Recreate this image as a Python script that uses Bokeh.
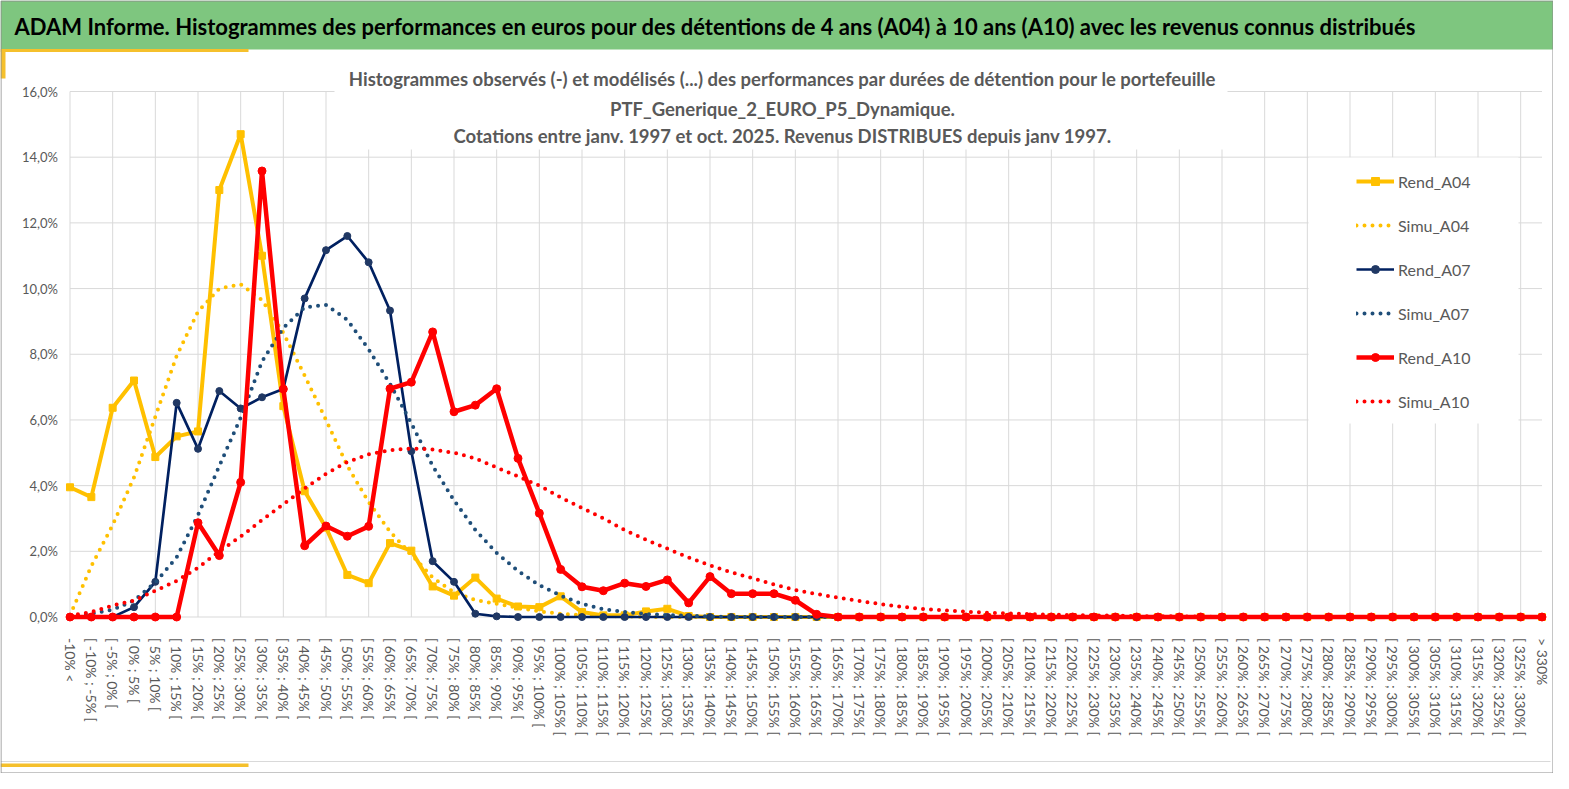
from bokeh.plotting import figure
from bokeh.models import FixedTicker, Range1d, Label, BoxAnnotation, Legend, LegendItem
from bokeh.embed import file_html
from bokeh.resources import INLINE

# ---------------- data ----------------
categories = ["-10% <"] + ["[ %d%% ; %d%% [" % (a, a + 5) for a in range(-10, 330, 5)] + ["> 330%"]
positions = list(range(len(categories)))

y_ticks = [0, 2, 4, 6, 8, 10, 12, 14, 16]
y_tick_labels = ["0,0%", "2,0%", "4,0%", "6,0%", "8,0%", "10,0%", "12,0%", "14,0%", "16,0%"]

rend_a04 = [3.95, 3.65, 6.37, 7.2, 4.87, 5.5, 5.65, 13.0, 14.7, 11.0,
            6.42, 3.83, 2.72, 1.28, 1.03, 2.25, 2.02, 0.93, 0.65, 1.2,
            0.56, 0.32, 0.3, 0.63, 0.15, 0.05, 0.05, 0.17, 0.25, 0.03] + [0.0] * 40

simu_a04 = [0.05, 1.55, 2.8, 4.25, 6.1, 7.95, 9.3, 10.0, 10.13, 9.65,
            8.65, 7.35, 6.0, 4.6, 3.5, 2.6, 1.9, 1.2, 0.75, 0.52,
            0.4, 0.28, 0.17, 0.1, 0.06, 0.03, 0.02] + [0.0] * 43

rend_a07 = [0.0, 0.0, 0.0, 0.3, 1.07, 6.52, 5.12, 6.88, 6.35, 6.69,
            6.94, 9.7, 11.17, 11.6, 10.8, 9.33, 5.05, 1.7, 1.07, 0.1,
            0.02] + [0.0] * 49

simu_a07 = [0.03, 0.1, 0.22, 0.5, 1.05, 1.82, 3.1, 4.6, 6.07, 7.78,
            8.8, 9.43, 9.5, 9.05, 8.15, 7.1, 5.9, 4.6, 3.55, 2.65,
            1.95, 1.4, 0.97, 0.65, 0.4, 0.24, 0.15, 0.09, 0.06, 0.04,
            0.02] + [0.0] * 39

rend_a10 = [0.0, 0.0, 0.0, 0.0, 0.0, 0.0, 2.87, 1.87, 4.1, 13.58,
            6.94, 2.17, 2.77, 2.46, 2.76, 6.95, 7.15, 8.68, 6.25, 6.45,
            6.95, 4.83, 3.16, 1.45, 0.92, 0.8, 1.03, 0.93, 1.13, 0.43,
            1.23, 0.71, 0.71, 0.71, 0.51, 0.08] + [0.0] * 34

simu_a10 = [0.05, 0.15, 0.35, 0.5, 0.8, 1.1, 1.5, 2.0, 2.45, 2.95,
            3.43, 3.92, 4.36, 4.72, 4.95, 5.08, 5.13, 5.1, 5.0, 4.83,
            4.55, 4.28, 4.0, 3.64, 3.32, 3.0, 2.65, 2.35, 2.08, 1.81,
            1.57, 1.36, 1.18, 0.99, 0.82, 0.7, 0.59, 0.49, 0.39, 0.31,
            0.24, 0.2, 0.16, 0.13, 0.11, 0.09, 0.07, 0.06, 0.05, 0.04,
            0.03, 0.02, 0.02, 0.01] + [0.0] * 16

banner_text = ("ADAM Informe. Histogrammes des performances en euros pour des d\u00e9tentions "
               "de 4 ans (A04) \u00e0 10 ans (A10) avec les revenus connus distribu\u00e9s")
title_lines = [
    "Histogrammes observ\u00e9s (-) et mod\u00e9lis\u00e9s (...) des performances par dur\u00e9es de d\u00e9tention pour le portefeuille",
    "PTF_Generique_2_EURO_P5_Dynamique.",
    "Cotations entre janv. 1997 et oct. 2025. Revenus DISTRIBUES depuis janv 1997.",
]

# ---------------- style ----------------
FONT = "Lato"
GREY = "#595959"
GRID = "#D9D9D9"
YEL = "#FFC000"
NAVY = "#002060"
NAVY_DOT = "#1F4E79"
RED = "#FF0000"
GREEN = "#7EC67F"
ACCENT = "#F5C02C"

W, H = 1553, 773
# pixel position of first / last category and of 0% / 16%
X0, X1 = 69.5, 1541.5
Y0, Y16 = 616.5, 91.0
sx = (X1 - X0) / (positions[-1] - positions[0])
sy = (Y0 - Y16) / (y_ticks[-1] - y_ticks[0])

p = figure(width=W, height=H, output_backend="svg", toolbar_location=None,
           x_range=Range1d(-X0 / sx, (W - X0) / sx),
           y_range=Range1d(-(H - Y0) / sy, Y0 / sy),
           min_border=0, min_border_left=0, min_border_right=0,
           min_border_top=0, min_border_bottom=0,
           background_fill_color="white", border_fill_color="white",
           outline_line_color=None)
p.grid.visible = False

# axes drawn at fixed locations inside the frame
p.xaxis.fixed_location = 0
p.xaxis.ticker = FixedTicker(ticks=positions)
p.xaxis.major_label_overrides = {i: c for i, c in zip(positions, categories)}
p.xaxis.major_label_orientation = "vertical"
p.xaxis.major_label_text_font = FONT
p.xaxis.major_label_text_font_size = "14px"
p.xaxis.major_label_text_color = GREY
p.xaxis.major_label_standoff = 15
p.xaxis.axis_line_color = None
p.xaxis.major_tick_line_color = None
p.xaxis.minor_tick_line_color = None

p.yaxis.fixed_location = 0
p.yaxis.ticker = FixedTicker(ticks=y_ticks)
p.yaxis.major_label_overrides = {t: l for t, l in zip(y_ticks, y_tick_labels)}
p.yaxis.major_label_text_font = FONT
p.yaxis.major_label_text_font_size = "13px"
p.yaxis.major_label_text_color = GREY
p.yaxis.major_label_standoff = 6
p.yaxis.axis_line_color = None
p.yaxis.major_tick_line_color = None
p.yaxis.minor_tick_line_color = None

# gridlines limited to the plotting area
even = positions[::2]
p.segment(x0=even, y0=[y_ticks[0]] * len(even), x1=even, y1=[y_ticks[-1]] * len(even),
          line_color=GRID, line_width=1)
p.segment(x0=[positions[0]] * len(y_ticks), y0=y_ticks, x1=[positions[-1]] * len(y_ticks),
          y1=y_ticks, line_color=GRID, line_width=1)

# series
DOT = "0 8"
r1 = p.line(positions, rend_a04, line_color=YEL, line_width=4)
m1 = p.scatter(positions, rend_a04, marker="square", size=7, fill_color=YEL, line_color=YEL)
r2 = p.line(positions, simu_a04, line_color=YEL, line_width=4, line_dash=DOT, line_cap="round")
r3 = p.line(positions, rend_a07, line_color=NAVY, line_width=2.7)
m3 = p.scatter(positions, rend_a07, marker="circle", size=7, fill_color="#203864", line_color="#203864")
r4 = p.line(positions, simu_a07, line_color=NAVY_DOT, line_width=4, line_dash=DOT, line_cap="round")
r5 = p.line(positions, rend_a10, line_color=RED, line_width=4.5)
m5 = p.scatter(positions, rend_a10, marker="circle", size=8, fill_color=RED, line_color=RED)
r6 = p.line(positions, simu_a10, line_color=RED, line_width=4, line_dash=DOT, line_cap="round")

# decorations in canvas pixel units
def abox(l, r, t, b, fill=None, line=None, lw=1):
    ba = BoxAnnotation(left=l, right=r, top=t, bottom=b,
                       left_units="canvas", right_units="canvas",
                       top_units="canvas", bottom_units="canvas",
                       fill_color=fill if fill else "white", fill_alpha=1.0 if fill else 0.0,
                       line_color=line if line else "white", line_width=lw,
                       line_alpha=1.0 if line else 0.0)
    p.add_layout(ba)
    return ba

abox(334, 1227, 55, 149, fill="white")
abox(1308, 1518, 157, 423, fill="white")
abox(0, W, 0, 49, fill=GREEN)
abox(0, 248, 48.5, 51.5, fill=ACCENT)
abox(0, 5, 49, 78, fill=ACCENT)
abox(0, W - 3, 760.5, 761.5, fill="#D9D9D9")
abox(0, 248, 763, 766.5, fill=ACCENT)
abox(0.5, W - 0.5, 0.5, H - 0.5, line="#8C8C8C", lw=1)

p.add_layout(Label(x=14, y=26, x_units="canvas", y_units="canvas", text=banner_text,
                   text_font=FONT, text_font_style="bold", text_font_size="22px",
                   text_color="black", text_baseline="middle", text_align="left"))
for ty, line in zip([78.5, 108, 135.5], title_lines):
    p.add_layout(Label(x=782, y=ty, x_units="canvas", y_units="canvas", text=line,
                       text_font=FONT, text_font_style="bold", text_font_size="18.5px",
                       text_color=GREY, text_baseline="middle", text_align="center"))

legend = Legend(items=[
    LegendItem(label="Rend_A04", renderers=[r1, m1]),
    LegendItem(label="Simu_A04", renderers=[r2]),
    LegendItem(label="Rend_A07", renderers=[r3, m3]),
    LegendItem(label="Simu_A07", renderers=[r4]),
    LegendItem(label="Rend_A10", renderers=[r5, m5]),
    LegendItem(label="Simu_A10", renderers=[r6]),
], location=(1356, 362), orientation="vertical",
    background_fill_alpha=0.0, border_line_color=None,
    padding=14, margin=0, spacing=24, glyph_width=38, glyph_height=20,
    label_height=20, label_standoff=4,
    label_text_font=FONT, label_text_font_size="16px", label_text_color=GREY)
p.add_layout(legend)

open("out.html", "w").write(file_html(p, INLINE))
